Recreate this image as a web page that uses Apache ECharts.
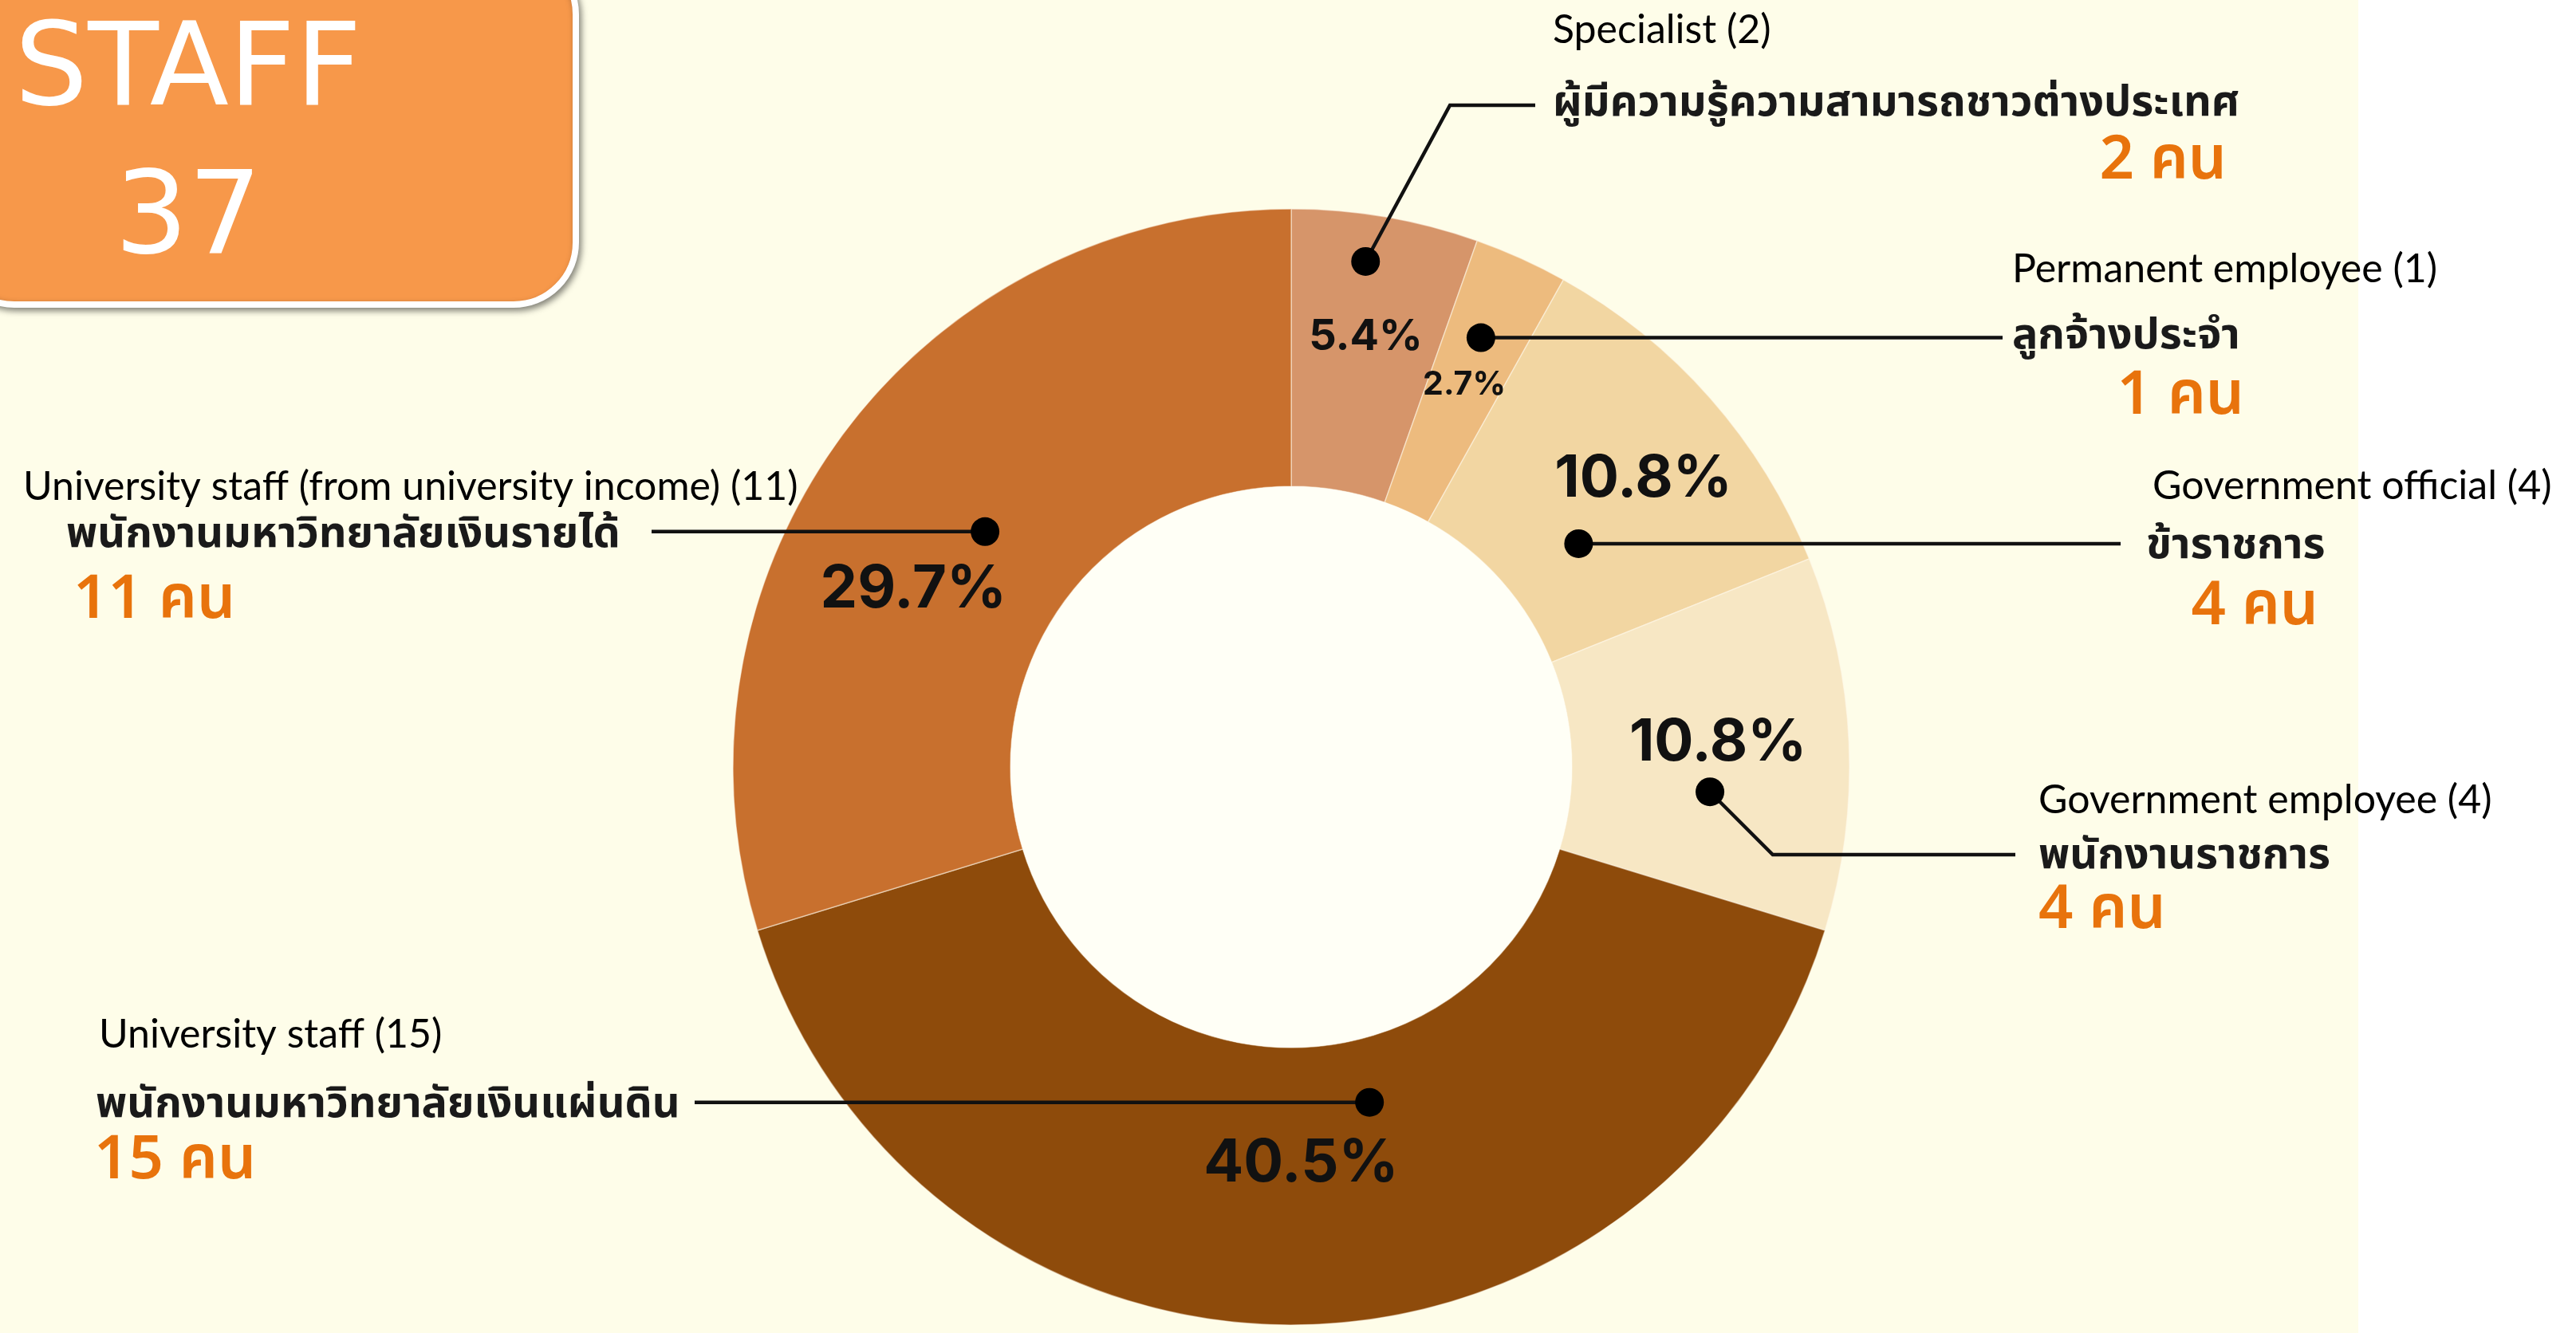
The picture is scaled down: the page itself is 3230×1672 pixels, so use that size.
<!DOCTYPE html>
<html>
<head>
<meta charset="utf-8">
<script src="https://cdn.jsdelivr.net/npm/echarts@6/dist/echarts.min.js"></script>
<style>
html,body{margin:0;padding:0;background:#FEFDE9;}
#c{width:3230px;height:1672px;}
</style>
</head>
<body>
<div id="c"></div>
<script>
// ---- data ----
const categoriesEn = [
  'Specialist (2)',
  'Permanent employee (1)',
  'Government official (4)',
  'Government employee (4)',
  'University staff (15)',
  'University staff (from university income) (11)'
];
const categoriesTh = [
  'ผู้มีความรู้ความสามารถชาวต่างประเทศ',
  'ลูกจ้างประจำ',
  'ข้าราชการ',
  'พนักงานราชการ',
  'พนักงานมหาวิทยาลัยเงินแผ่นดิน',
  'พนักงานมหาวิทยาลัยเงินรายได้'
];
const values = [2, 1, 4, 4, 15, 11];
const countUnit = 'คน';
const titleText = 'STAFF';

// ---- styles / layout ----
const sliceColors = ['#D6956A', '#EDBB7E', '#F2D6A2', '#F7E7C4', '#8E4B0B', '#C8702E'];
const CX = 1619, CY = 962, R0 = 352, R1 = 700;

// annotation layout per slice (positions only)
const annot = [
  {dot:[0.43,0.83], pct:[0.50,0.58], pctSize:54, elbow:{type:'up', y:132}, lineEnd:1925,
   en:{x:1947,y:38,align:'left'}, th:{x:1947,y:134,align:'left'}, cnt:{x:2792,y:209,align:'right'}},
  {dot:[0.45,0.68], pct:[0.47,0.52], pctSize:41, lineEnd:2511,
   en:{x:2523,y:338,align:'left'}, th:{x:2523,y:426,align:'left'}, cnt:{x:2814,y:504,align:'right'}},
  {dot:[0.59,0.30], pct:[0.54,0.64], pctSize:73, lineEnd:2659,
   en:{x:2699,y:610,align:'left'}, th:{x:2691,y:689,align:'left'}, cnt:{x:2907,y:768,align:'right'}},
  {dot:[0.65,0.50], pct:[0.46,0.53], pctSize:73, elbow:{type:'down', y:1072}, lineEnd:2527,
   en:{x:2556,y:1004,align:'left'}, th:{x:2556,y:1078,align:'left'}, cnt:{x:2556,y:1149,align:'left'}},
  {dot:[0.41,0.23], pct:[0.49,0.40], pctSize:74, lineEnd:871,
   en:{x:124,y:1298,align:'left'}, th:{x:120,y:1390,align:'left'}, cnt:{x:118,y:1463,align:'left'}},
  {dot:[0.51,0.38], pct:[0.40,0.50], pctSize:74, lineEnd:817,
   en:{x:29,y:611,align:'left'}, th:{x:83,y:675,align:'left'}, cnt:{x:92,y:760,align:'left'}}
];

const total = values.reduce((a, b) => a + b, 0);
const chart = echarts.init(document.getElementById('c'), null, {renderer: 'canvas'});

chart.setOption({
  animation: false,
  backgroundColor: '#FEFDE9',
  series: [
    {
      type: 'pie',
      center: [CX, CY],
      radius: [R0, R1],
      startAngle: 90,
      clockwise: true,
      silent: true,
      label: {show: false},
      labelLine: {show: false},
      itemStyle: {borderColor: 'rgba(255,250,235,0.5)', borderWidth: 1.5},
      data: values.map((v, i) => ({name: categoriesEn[i], value: v, itemStyle: {color: sliceColors[i]}}))
    },
    {
      type: 'pie',
      center: [CX, CY],
      radius: [0, R0],
      silent: true,
      label: {show: false},
      labelLine: {show: false},
      itemStyle: {color: '#FFFFF6'},
      data: [{value: 1}]
    }
  ]
});

function polar(layout, t, rf) {
  const a = layout.startAngle + t * (layout.endAngle - layout.startAngle);
  const r = layout.r0 + rf * (layout.r - layout.r0);
  return [layout.cx + r * Math.cos(a), layout.cy + r * Math.sin(a)];
}

const data = chart.getModel().getSeriesByIndex(0).getData();
const fontEn = "Lato, 'Open Sans', sans-serif";
const fontTh = "'Noto Sans Thai', 'Noto Sans', sans-serif";
const fontPct = "Inter, Roboto, sans-serif";
const g = [];

// white band on right and title box
g.push({type: 'rect', z: -5, shape: {x: 2957, y: 0, width: 273, height: 1672}, style: {fill: '#FFFFFF'}});
g.push({type: 'rect', z: 50, shape: {x: -60, y: -60, width: 782, height: 442, r: 78},
  style: {fill: '#F7984A', stroke: '#FFFFFF', lineWidth: 8, shadowBlur: 8, shadowOffsetX: 3, shadowOffsetY: 4, shadowColor: 'rgba(0,0,0,0.4)'}});
g.push({type: 'text', z: 51, style: {x: 236, y: 93, text: titleText, fill: '#FFFFFF', font: "145px 'DejaVu Sans'", textAlign: 'center', textVerticalAlign: 'middle'}});
g.push({type: 'text', z: 51, style: {x: 236, y: 279, text: String(total), fill: '#FFFFFF', font: "145px 'DejaVu Sans'", textAlign: 'center', textVerticalAlign: 'middle'}});

values.forEach((v, i) => {
  const lay = data.getItemLayout(i);
  const A = annot[i];
  const d = polar(lay, A.dot[0], A.dot[1]);
  const p = polar(lay, A.pct[0], A.pct[1]);
  // leader line
  let pts;
  if (A.elbow && A.elbow.type === 'up') {
    const ex = d[0] + (d[1] - A.elbow.y) * 0.54;
    pts = [d, [ex, A.elbow.y], [A.lineEnd, A.elbow.y]];
  } else if (A.elbow && A.elbow.type === 'down') {
    const ex = d[0] + (A.elbow.y - d[1]);
    pts = [d, [ex, A.elbow.y], [A.lineEnd, A.elbow.y]];
  } else {
    pts = [d, [A.lineEnd, d[1]]];
  }
  g.push({type: 'polyline', z: 60, shape: {points: pts}, style: {stroke: '#111111', lineWidth: 4.5, fill: null}});
  g.push({type: 'circle', z: 61, shape: {cx: d[0], cy: d[1], r: 18}, style: {fill: '#000000'}});
  // percent
  const pct = (v / total * 100).toFixed(1) + '%';
  g.push({type: 'text', z: 61, style: {x: p[0], y: p[1] + 7, text: pct, fill: '#111111',
    font: 'bold ' + A.pctSize + 'px ' + fontPct, textAlign: 'center', textVerticalAlign: 'middle'}});
  // texts
  g.push({type: 'text', z: 61, style: {x: A.en.x, y: A.en.y, text: categoriesEn[i], fill: '#000000',
    font: '50px ' + fontEn, textAlign: A.en.align, textVerticalAlign: 'middle'}});
  g.push({type: 'text', z: 61, style: {x: A.th.x, y: A.th.y, text: categoriesTh[i], fill: '#1A1A1A',
    font: 'bold 54px ' + fontTh, textAlign: A.th.align, textVerticalAlign: 'middle'}});
  g.push({type: 'text', z: 61, style: {x: A.cnt.x, y: A.cnt.y, text: v + ' ' + countUnit, fill: '#E8730C',
    font: '600 76px ' + fontTh, textAlign: A.cnt.align, textVerticalAlign: 'middle'}});
});

chart.setOption({graphic: {elements: g}});
</script>
</body>
</html>
